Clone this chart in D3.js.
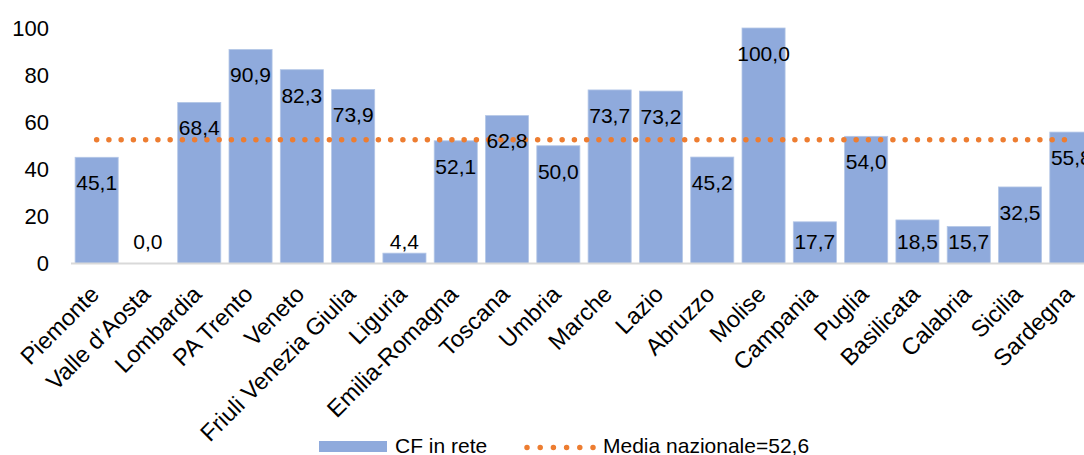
<!DOCTYPE html>
<html>
<head>
<meta charset="utf-8">
<script src="https://cdn.jsdelivr.net/npm/d3@7"></script>
<style>
  html, body { margin: 0; padding: 0; background: #fff; }
  svg { display: block; font-family: "Liberation Sans", Arial, sans-serif; }
</style>
</head>
<body>
<svg id="chart" width="1084" height="455"></svg>
<script>
const categories = ["Piemonte", "Valle d’Aosta", "Lombardia", "PA Trento", "Veneto", "Friuli Venezia Giulia", "Liguria", "Emilia-Romagna", "Toscana", "Umbria", "Marche", "Lazio", "Abruzzo", "Molise", "Campania", "Puglia", "Basilicata", "Calabria", "Sicilia", "Sardegna"];
const cfInRete = [45.1, 0.0, 68.4, 90.9, 82.3, 73.9, 4.4, 52.1, 62.8, 50.0, 73.7, 73.2, 45.2, 100.0, 17.7, 54.0, 18.5, 15.7, 32.5, 55.8];
const mediaNazionale = 52.6;
const yTicks = [0, 20, 40, 60, 80, 100];
const seriesNames = ["CF in rete", "Media nazionale=52,6"];

const svg = d3.select("#chart");
const barColor = "#8FAADC";
const lineColor = "#ED7D31";

const x = d3.scaleBand().domain(categories).range([71, 1097]).paddingInner(0.16).paddingOuter(0.08);
const y = d3.scaleLinear().domain([0, 100]).range([263.5, 28]);
const fmt = v => d3.format(".1f")(v).replace(".", ",");

// y tick labels
svg.append("g").selectAll("text").data(yTicks).join("text")
  .attr("x", 49).attr("y", d => y(d)).attr("dy", "0.35em")
  .attr("text-anchor", "end").attr("font-size", 22).attr("fill", "#000")
  .text(d => d);

// bars
svg.append("g").selectAll("rect").data(categories).join("rect")
  .attr("x", d => x(d)).attr("width", x.bandwidth())
  .attr("y", (d, i) => y(cfInRete[i]))
  .attr("height", (d, i) => y(0) - y(cfInRete[i]))
  .attr("fill", barColor)
  .attr("stroke", "#B4C7E7").attr("stroke-width", 0.8);

// axis line
svg.append("line")
  .attr("x1", x.range()[0]).attr("x2", x.range()[1])
  .attr("y1", y(0)).attr("y2", y(0))
  .attr("stroke", "#D9D9D9").attr("stroke-width", 2);

// average dotted line
const lineGen = d3.line().x(d => x(d) + x.bandwidth() / 2).y(() => y(mediaNazionale));
svg.append("path").datum(categories)
  .attr("d", lineGen)
  .attr("fill", "none").attr("stroke", lineColor)
  .attr("stroke-width", 5.5).attr("stroke-linecap", "round")
  .attr("stroke-dasharray", "0 12.25");

// value labels
svg.append("g").selectAll("text").data(categories).join("text")
  .attr("x", d => x(d) + x.bandwidth() / 2)
  .attr("y", (d, i) => Math.min(y(cfInRete[i]) + 25.5, y(0) - 22))
  .attr("dy", "0.35em").attr("text-anchor", "middle")
  .attr("font-size", 21).attr("fill", "#000")
  .text((d, i) => fmt(cfInRete[i]));

// category labels
svg.append("g").selectAll("text").data(categories).join("text")
  .attr("transform", d => `translate(${x(d) + x.bandwidth() / 2 - 2},290) rotate(-45)`)
  .attr("dy", "0.35em").attr("text-anchor", "end")
  .attr("font-size", 23.5).attr("fill", "#000")
  .text(d => d);

// legend
const lg = svg.append("g");
lg.append("rect").attr("x", 319).attr("y", 441).attr("width", 68).attr("height", 11).attr("fill", barColor);
lg.append("text").attr("x", 395).attr("y", 452.5).attr("font-size", 21).attr("fill", "#000").text(seriesNames[0]);
lg.append("line").attr("x1", 527).attr("x2", 594).attr("y1", 447.5).attr("y2", 447.5)
  .attr("stroke", lineColor).attr("stroke-width", 5.5).attr("stroke-linecap", "round")
  .attr("stroke-dasharray", "0 13.2");
lg.append("text").attr("x", 603).attr("y", 452.5).attr("font-size", 21).attr("fill", "#000").text(seriesNames[1]);
</script>
</body>
</html>
